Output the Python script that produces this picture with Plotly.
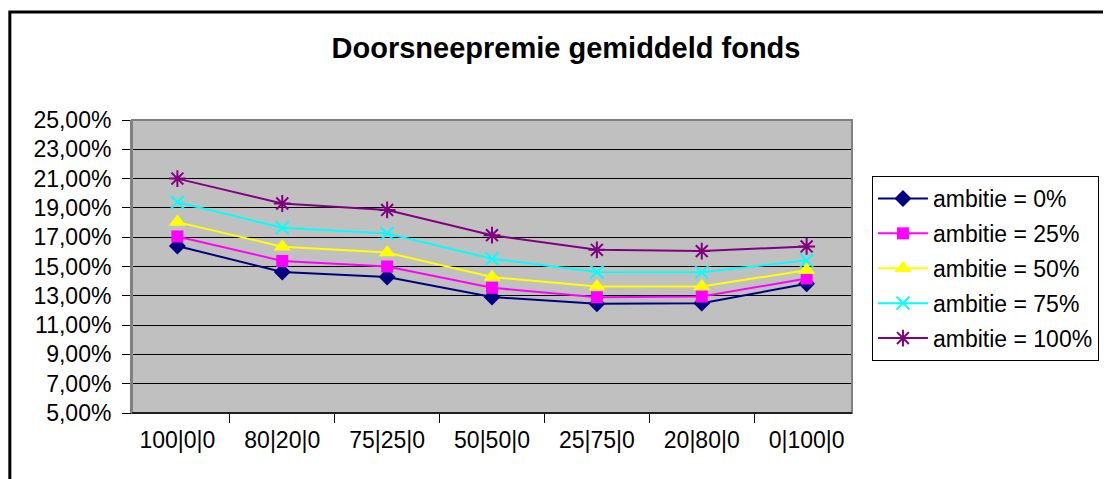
import plotly.graph_objects as go

categories = ["100|0|0", "80|20|0", "75|25|0", "50|50|0", "25|75|0", "20|80|0", "0|100|0"]
ambitie_0 = [0.1640, 0.1462, 0.1428, 0.1292, 0.1245, 0.1250, 0.1382]
ambitie_25 = [0.1705, 0.1538, 0.1500, 0.1355, 0.1290, 0.1295, 0.1418]
ambitie_50 = [0.1803, 0.1635, 0.1595, 0.1428, 0.1363, 0.1363, 0.1475]
ambitie_75 = [0.1938, 0.1765, 0.1725, 0.1553, 0.1462, 0.1460, 0.1542]
ambitie_100 = [0.2100, 0.1930, 0.1886, 0.1714, 0.1614, 0.1605, 0.1637]
series_names = ["ambitie = 0%", "ambitie = 25%", "ambitie = 50%", "ambitie = 75%", "ambitie = 100%"]
y_ticks = [0.05, 0.07, 0.09, 0.11, 0.13, 0.15, 0.17, 0.19, 0.21, 0.23, 0.25]
title_text = "Doorsneepremie gemiddeld fonds"

FONT = "Liberation Sans, Arial, sans-serif"

styles = [
    dict(color="#000080", symbol="diamond", size=13, open=False),
    dict(color="#FF00FF", symbol="square", size=12, open=False),
    dict(color="#FFFF00", symbol="triangle-up", size=15, open=False),
    dict(color="#00FFFF", symbol="x-thin-open", size=13, open=True),
    dict(color="#800080", symbol="asterisk-open", size=14, open=True),
]
values = [ambitie_0, ambitie_25, ambitie_50, ambitie_75, ambitie_100]

fig = go.Figure()
for i, (name, vals, st) in enumerate(zip(series_names, values, styles)):
    marker = dict(symbol=st["symbol"], size=st["size"], color=st["color"])
    if st["open"]:
        marker["line"] = dict(color=st["color"], width=2)
    else:
        marker["line"] = dict(width=0)
    fig.add_trace(go.Scatter(
        x=categories, y=vals, name=name, mode="lines+markers",
        line=dict(color=st["color"], width=2),
        marker=marker, legendgroup=f"g{i}",
    ))

# page body has an 8px margin; all target pixel positions are shifted by it
OFF = 8
W, H = 1111 - OFF, 479 - OFF
L, R, T, B = 132 - OFF, 854 - OFF, 120 - OFF, 413 - OFF
pw, ph = R - L, B - T

def px(x):
    return (x - OFF - L) / pw

def py(y):
    return (B - (y - OFF)) / ph

fig.update_layout(
    width=W, height=H,
    margin=dict(l=L, r=W - R, t=T, b=H - B, pad=0),
    paper_bgcolor="white", plot_bgcolor="#C0C0C0",
    separators=",.",
    font=dict(family=FONT, size=23, color="black"),
    title=dict(text=title_text, x=(566 - OFF) / W, xref="container", xanchor="center",
               y=1 - (48 - OFF) / H, yref="container", yanchor="middle",
               font=dict(family=FONT, size=29, color="black", weight="bold")),
    showlegend=True,
    legend=dict(x=px(874), y=py(176), xanchor="left", yanchor="top",
                bgcolor="white", bordercolor="black", borderwidth=1,
                font=dict(family=FONT, size=23, color="black"),
                tracegroupgap=2, itemwidth=50),
    xaxis=dict(type="category", showgrid=False, zeroline=False,
               ticks="outside", ticklen=9, tickcolor="black", tickwidth=1,
               tickson="boundaries", showline=True, linecolor="black", linewidth=1,
               tickfont=dict(family=FONT, size=23), ticklabelstandoff=6),
    yaxis=dict(range=[0.05, 0.25], tickvals=y_ticks, tickformat=".2%",
               showgrid=True, gridcolor="black", gridwidth=1, zeroline=False,
               ticks="outside", ticklen=8, tickcolor="black", tickwidth=1,
               showline=True, linecolor="#808080", linewidth=2,
               tickfont=dict(family=FONT, size=23), ticklabelstandoff=6),
    shapes=[
        dict(type="rect", xref="paper", yref="paper", x0=0, x1=1, y0=0, y1=1,
             line=dict(color="#808080", width=2), fillcolor="rgba(0,0,0,0)", layer="above"),
        dict(type="line", xref="paper", yref="paper", x0=0, x1=1, y0=0, y1=0,
             line=dict(color="black", width=1.5), layer="above"),
        dict(type="rect", xref="paper", yref="paper",
             x0=px(9.5), x1=px(1125), y0=py(495), y1=py(12),
             line=dict(color="black", width=3), fillcolor="rgba(0,0,0,0)", layer="above"),
    ],
)

fig.write_html("out.html")
